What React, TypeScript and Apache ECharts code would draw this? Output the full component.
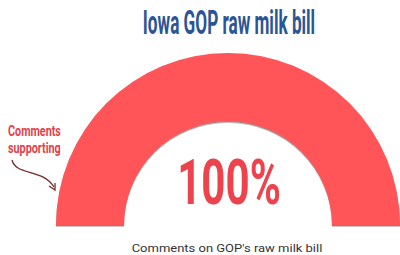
import React, { useEffect, useRef } from "react";
import * as echarts from "echarts";

const titleText = "Iowa GOP raw milk bill";
const gaugeValues = [100];
const gaugeMax = 100;
const annotationLines = ["Comments", "supporting"];
const footerText = "Comments on GOP's raw milk bill";

const RED = "#FF5458";

export default function App() {
  const ref = useRef<HTMLDivElement>(null);
  useEffect(() => {
    document.body.style.margin = "0";
    const chart = echarts.init(ref.current!, null, { renderer: "svg" });
    const value = gaugeValues[0];
    chart.setOption({
      animation: false,
      backgroundColor: "#ffffff",
      series: [
        {
          type: "gauge",
          center: [228, 225],
          radius: 172,
          startAngle: 180,
          endAngle: 0,
          min: 0,
          max: gaugeMax,
          pointer: { show: false },
          axisTick: { show: false },
          splitLine: { show: false },
          axisLabel: { show: false },
          anchor: { show: false },
          title: { show: false },
          detail: { show: false },
          axisLine: { lineStyle: { width: 68, color: [[1, "#f2f2f2"]] } },
          progress: {
            show: true,
            width: 68,
            itemStyle: {
              color: RED,
              shadowColor: "rgba(70,20,20,0.55)",
              shadowOffsetY: 1.5,
              shadowBlur: 1,
            },
          },
          data: [{ value }],
        },
      ],
      graphic: [
        {
          type: "text",
          x: 229,
          y: 23,
          scaleX: 0.52,
          style: {
            text: titleText,
            font: "bold 33px Roboto",
            fill: "#2B5595",
            textAlign: "center",
            textVerticalAlign: "middle",
          },
        },
        {
          type: "text",
          x: 229,
          y: 183,
          scaleX: 0.68,
          style: {
            text: `${value}%`,
            font: "bold 62px Roboto",
            fill: "#EC434C",
            textAlign: "center",
            textVerticalAlign: "middle",
          },
        },
        ...annotationLines.map((t, i) => ({
          type: "text",
          x: 8,
          y: 131 + i * 17,
          scaleX: 0.72,
          style: {
            text: t,
            font: "bold 15px Roboto",
            fill: "#E5414A",
            textAlign: "left",
            textVerticalAlign: "middle",
          },
        })),
        {
          type: "bezierCurve",
          shape: { x1: 12, y1: 160, cpx1: 16, cpy1: 176, cpx2: 42, cpy2: 168, x2: 54, y2: 187 },
          style: { stroke: "#7a2a2a", lineWidth: 1.3, fill: null },
        },
        {
          type: "polyline",
          shape: { points: [[49, 186], [55, 190], [55, 183]] },
          style: { stroke: "#7a2a2a", lineWidth: 1.3, fill: null },
        },
        {
          type: "text",
          x: 227,
          y: 249,
          scaleX: 1.3,
          style: {
            text: footerText,
            font: "10px Roboto",
            fill: "#333333",
            textAlign: "center",
            textVerticalAlign: "middle",
          },
        },
      ],
    });
    return () => chart.dispose();
  }, []);
  return <div ref={ref} style={{ width: 400, height: 255 }} />;
}
